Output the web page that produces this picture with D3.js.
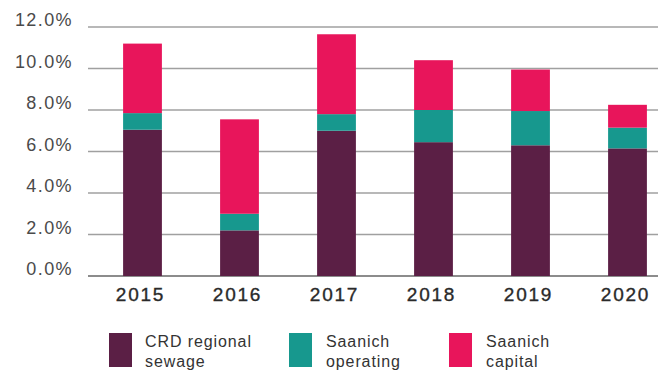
<!DOCTYPE html>
<html>
<head>
<meta charset="utf-8">
<script src="https://cdn.jsdelivr.net/npm/d3@7"></script>
<style>
  html, body { margin: 0; padding: 0; background: #fff; }
  svg { display: block; font-family: "Liberation Sans", Arial, sans-serif; }
</style>
</head>
<body>
<svg id="chart" width="670" height="374"></svg>
<script>
// Sewer utility rate increases by component, 2015–2020 (percent)
const years = ["2015", "2016", "2017", "2018", "2019", "2020"];
const crdRegionalSewage = [7.05, 2.2, 7.0, 6.45, 6.3, 6.15];
const saanichOperating  = [0.8, 0.8, 0.8, 1.55, 1.65, 1.0];
const saanichCapital    = [3.35, 4.55, 3.85, 2.4, 2.0, 1.1];
const yTicks = [0, 2, 4, 6, 8, 10, 12];

const seriesKeys = ["crd", "operating", "capital"];
const seriesLabels = [["CRD regional", "sewage"], ["Saanich", "operating"], ["Saanich", "capital"]];
const seriesColors = ["#5b1f45", "#17988e", "#e8155b"];

const rows = years.map((y, i) => ({
  year: y,
  crd: crdRegionalSewage[i],
  operating: saanichOperating[i],
  capital: saanichCapital[i]
}));

const svg = d3.select("#chart");

const x = d3.scaleBand()
  .domain(years)
  .range([94, 676])
  .paddingInner(0.6)
  .paddingOuter(0.3);

const y = d3.scaleLinear()
  .domain([0, 12])
  .range([276, 27]);

// Gridlines
svg.append("g")
  .selectAll("line")
  .data(yTicks)
  .join("line")
  .attr("x1", 88)
  .attr("x2", 658)
  .attr("y1", d => y(d))
  .attr("y2", d => y(d))
  .attr("stroke", d => d === 0 ? "#8c8c8c" : "#a0a0a0")
  .attr("stroke-width", d => d === 0 ? 2 : 1.3);

// Y tick labels
svg.append("g")
  .selectAll("text")
  .data(yTicks)
  .join("text")
  .attr("x", 73)
  .attr("y", d => y(d) - 1)
  .attr("text-anchor", "end")
  .attr("font-size", 18)
  .attr("letter-spacing", 1.4)
  .attr("fill", "#4a4a4a")
  .text(d => d3.format(".1f")(d) + "%");

// Stacked bars
const stack = d3.stack().keys(seriesKeys);
const layers = stack(rows);
const color = d3.scaleOrdinal().domain(seriesKeys).range(seriesColors);

svg.append("g")
  .selectAll("g")
  .data(layers)
  .join("g")
  .attr("fill", d => color(d.key))
  .selectAll("rect")
  .data(d => d)
  .join("rect")
  .attr("x", d => x(d.data.year))
  .attr("width", x.bandwidth())
  .attr("y", d => y(d[1]))
  .attr("height", d => y(d[0]) - y(d[1]));

// X labels
svg.append("g")
  .selectAll("text")
  .data(years)
  .join("text")
  .attr("x", d => x(d) + x.bandwidth() / 2 - 2)
  .attr("y", 301)
  .attr("text-anchor", "middle")
  .attr("font-size", 19)
  .attr("letter-spacing", 1.8)
  .attr("fill", "#2a2a2a")
  .attr("stroke", "#2a2a2a")
  .attr("stroke-width", 0.35)
  .text(d => d);

// Legend
const legendX = [109, 289, 449];
const legend = svg.append("g")
  .selectAll("g")
  .data(seriesKeys)
  .join("g")
  .attr("transform", (d, i) => `translate(${legendX[i]},333)`);

legend.append("rect")
  .attr("width", 23)
  .attr("height", 34)
  .attr("fill", d => color(d));

legend.append("text")
  .attr("x", (d, i) => i === 0 ? 36 : 37)
  .attr("font-size", 16)
  .attr("letter-spacing", 0.9)
  .attr("fill", "#333")
  .selectAll("tspan")
  .data((d, i) => seriesLabels[i])
  .join("tspan")
  .attr("x", function () { return this.parentNode.getAttribute("x"); })
  .attr("y", (d, j) => 14 + j * 20)
  .text(d => d);
</script>
</body>
</html>
